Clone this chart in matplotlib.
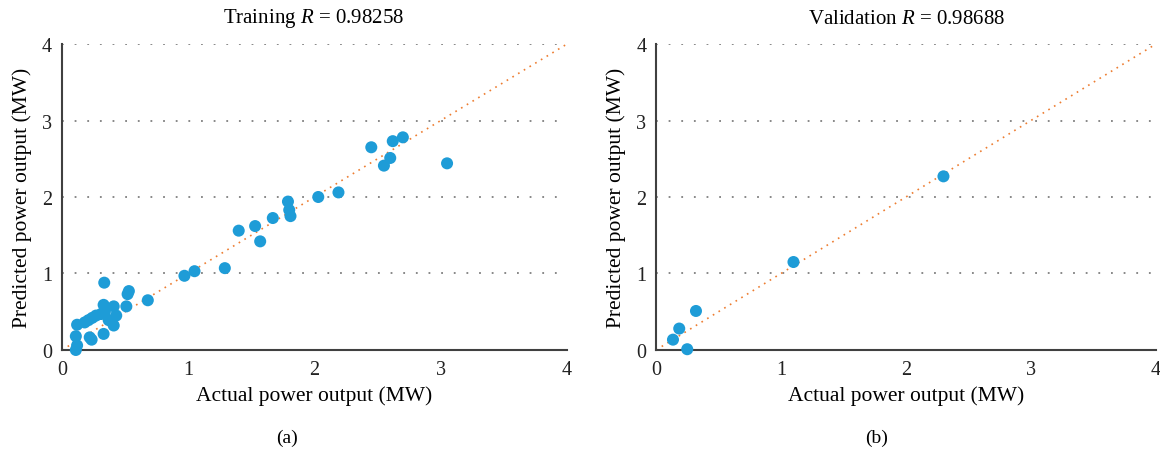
import matplotlib
matplotlib.use("Agg")
import matplotlib.pyplot as plt
import numpy as np

# training set (actual, predicted) in MW
train_actual = [0.11, 0.12, 0.11, 0.22, 0.235, 0.33, 0.41, 0.37, 0.12, 0.18, 0.21,
                0.24, 0.27, 0.31, 0.34, 0.43, 0.33, 0.41, 0.51, 0.68, 0.52, 0.53,
                0.335, 0.97, 1.05, 1.29, 1.40, 1.53, 1.57, 1.67, 1.79, 1.80, 1.81,
                2.03, 2.19, 2.45, 2.55, 2.60, 2.62, 2.70, 3.05]
train_pred = [0.0, 0.06, 0.18, 0.165, 0.135, 0.21, 0.32, 0.39, 0.33, 0.36, 0.39,
              0.42, 0.45, 0.47, 0.50, 0.45, 0.59, 0.57, 0.57, 0.65, 0.73, 0.77,
              0.88, 0.97, 1.03, 1.07, 1.56, 1.62, 1.42, 1.725, 1.94, 1.83, 1.75,
              2.0, 2.06, 2.65, 2.41, 2.51, 2.73, 2.78, 2.44]

# validation set
val_actual = [0.136, 0.186, 0.25, 0.32, 1.10, 2.30]
val_pred = [0.135, 0.28, 0.01, 0.51, 1.15, 2.27]

titles = ["Training $R$ = 0.98258", "Validation $R$ = 0.98688"]
captions = ["(a)", "(b)"]

plt.rcParams["font.family"] = ["Liberation Serif", "DejaVu Serif"]
plt.rcParams["mathtext.fontset"] = "custom"
plt.rcParams["mathtext.it"] = "Liberation Serif:italic"
plt.rcParams["mathtext.rm"] = "Liberation Serif"

fig = plt.figure(figsize=(11.6, 4.56), dpi=100)
ax1 = fig.add_axes([0.0534, 0.2303, 0.4354, 0.671])
ax2 = fig.add_axes([0.5655, 0.2303, 0.4310, 0.671])

dot_color = "#1E9CD7"
line_color = "#ED7D31"

title_x = [314 / 1160, 907 / 1160]
caption_x = [287 / 1160, 877 / 1160]

for i, (ax, xs, ys) in enumerate([(ax1, train_actual, train_pred),
                                  (ax2, val_actual, val_pred)]):
    ax.set_xlim(0, 4)
    ax.set_ylim(0, 4)
    for yv in [1, 2, 3, 4]:
        ax.axhline(yv, color="#7f7f7f", lw=1.3, ls=(0, (1, 6)), zorder=1)
    ax.plot([0, 4], [0, 4], color=line_color, lw=1.2, ls=(0, (1, 3)), zorder=2)
    ax.scatter(xs, ys, s=75, color=dot_color, edgecolors="none", zorder=3, clip_on=False)
    for side in ["top", "right"]:
        ax.spines[side].set_visible(False)
    for side in ["left", "bottom"]:
        ax.spines[side].set_color("#404040")
        ax.spines[side].set_linewidth(1.5)
    ax.set_xticks([0, 1, 2, 3, 4])
    ax.set_yticks([0, 1, 2, 3, 4])
    ax.tick_params(length=0, labelsize=14.5, colors="#222222", pad=7)
    ax.set_xlabel("Actual power output (MW)", fontsize=15.5, labelpad=5)
    ax.set_ylabel("Predicted power output (MW)", fontsize=15.5, labelpad=7)
    fig.text(title_x[i], 1 - 19 / 456, titles[i], ha="center", va="center", fontsize=15)
    fig.text(caption_x[i], 1 - 438 / 456, captions[i], ha="center", va="center", fontsize=14)

fig.savefig("out.png", dpi=100)
